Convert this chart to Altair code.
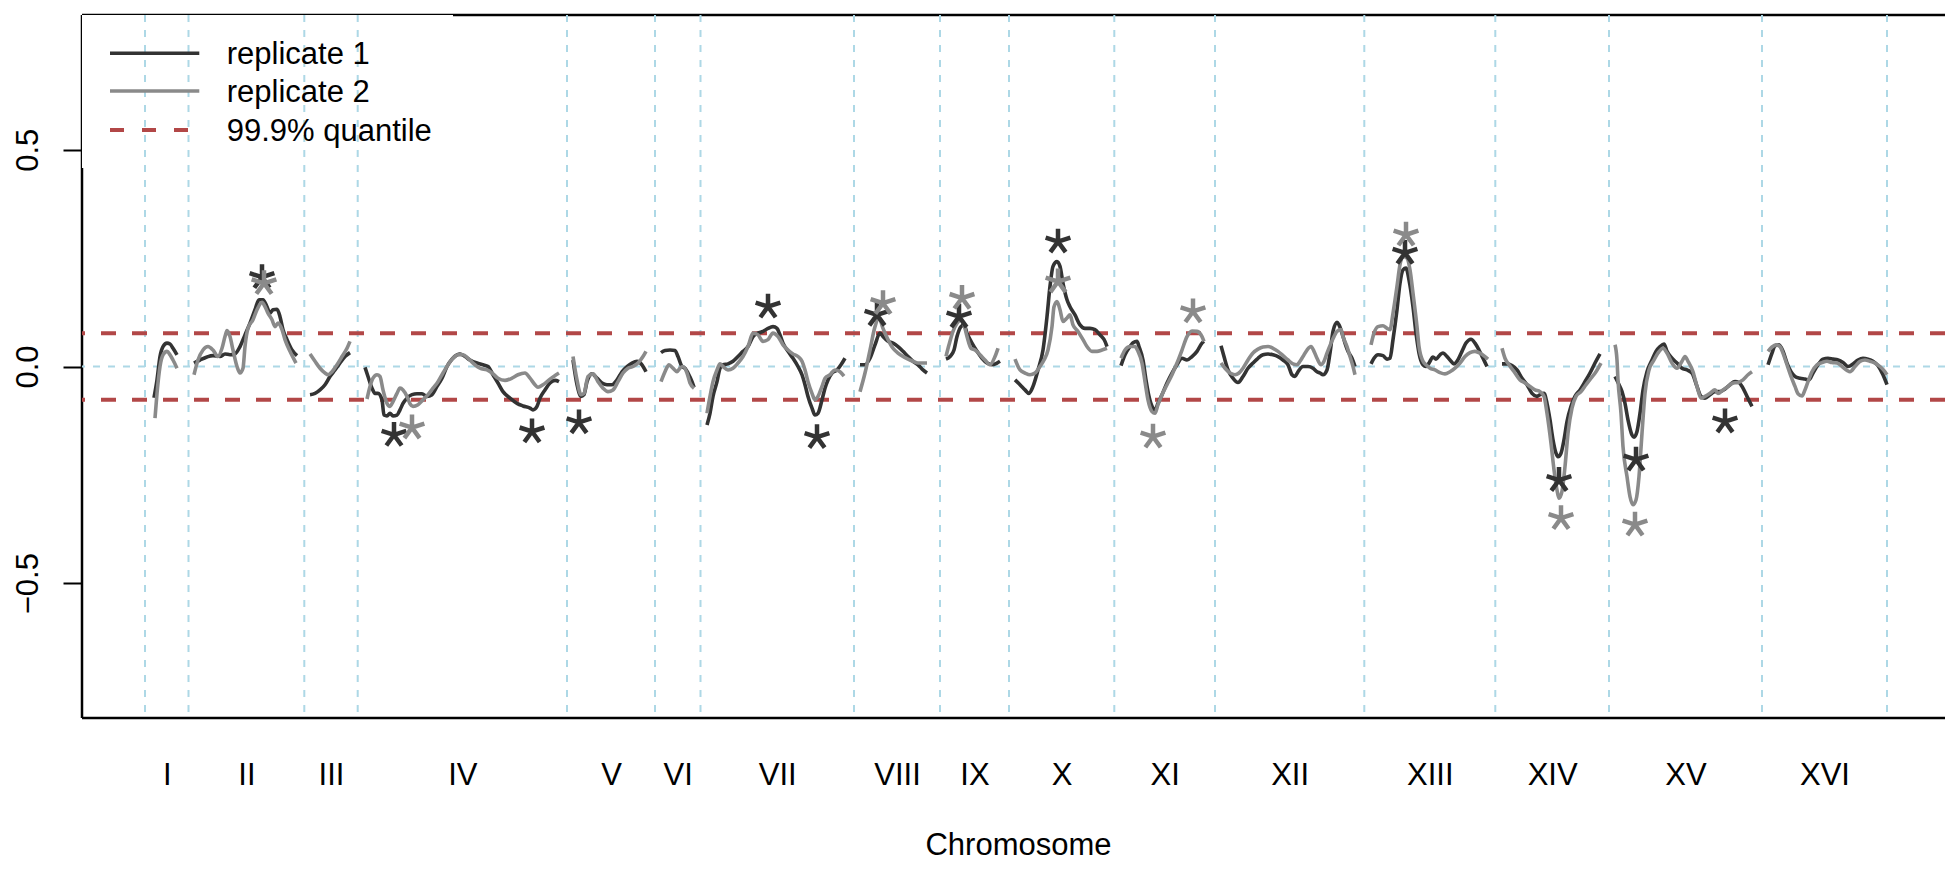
import json
import altair as alt
import pandas as pd

# ---------------- data ----------------
chromosomes = ["I", "II", "III", "IV", "V", "VI", "VII", "VIII",
               "IX", "X", "XI", "XII", "XIII", "XIV", "XV", "XVI"]
# chromosome boundaries along the concatenated genome (position bins)
boundaries = [0, 43.5, 159.3, 212.7, 422, 510, 555.5, 709, 795, 864,
              969.3, 1070, 1219.3, 1350.3, 1464, 1617, 1742]
quantile = 0.077

# Chromosome I
I_pos1 = [9, 12, 15, 18, 22, 25, 28, 32]
I_val1 = [-0.072, -0.031, 0.023, 0.046, 0.054, 0.052, 0.042, 0.027]
I_pos2 = [10, 12, 15, 18, 22, 25, 28, 32]
I_val2 = [-0.119, -0.062, 0.0, 0.027, 0.035, 0.027, 0.015, -0.004]
# Chromosome II
II_pos1 = [49, 55, 62, 68, 75, 80, 85, 90, 95, 100, 105, 110, 114, 118, 122, 125, 128, 132, 135, 138, 142, 147, 152]
II_val1 = [0.008, 0.015, 0.022, 0.025, 0.023, 0.029, 0.027, 0.029, 0.046, 0.073, 0.1, 0.131, 0.154, 0.154, 0.138,
           0.123, 0.131, 0.132, 0.115, 0.085, 0.062, 0.038, 0.025]
II_pos2 = [49, 53, 58, 63, 68, 73, 77, 80, 82, 85, 88, 92, 95, 98, 100, 103, 108, 112, 117, 120, 123, 127, 130,
           133, 137, 140, 145, 151]
II_val2 = [-0.019, 0.015, 0.038, 0.046, 0.038, 0.023, 0.042, 0.069, 0.083, 0.069, 0.038, 0.0, -0.015, -0.004,
           0.046, 0.088, 0.108, 0.131, 0.148, 0.138, 0.123, 0.108, 0.092, 0.1, 0.085, 0.062, 0.035, 0.008]
# Chromosome III
III_pos1 = [165, 170, 175, 180, 185, 190, 195, 200, 205]
III_val1 = [-0.065, -0.062, -0.054, -0.042, -0.023, -0.008, 0.008, 0.023, 0.032]
III_pos2 = [165, 170, 175, 180, 183, 187, 192, 197, 202, 205]
III_val2 = [0.029, 0.012, -0.004, -0.015, -0.019, -0.012, 0.004, 0.023, 0.042, 0.058]
# Chromosome IV
IV_pos1 = [220, 223, 227, 230, 233, 237, 239, 242, 245, 248, 252, 255, 258, 262, 267, 272, 277, 282, 287, 292,
           297, 302, 307, 312, 315, 320, 325, 332, 338, 343, 348, 353, 358, 365, 372, 378, 385, 388, 392, 395,
           400, 405, 410, 414]
IV_val1 = [-0.002, -0.023, -0.05, -0.062, -0.062, -0.077, -0.112, -0.114, -0.108, -0.114, -0.112, -0.1, -0.085,
           -0.073, -0.065, -0.063, -0.063, -0.069, -0.065, -0.046, -0.027, 0.0, 0.017, 0.027, 0.029, 0.023, 0.015,
           0.008, 0.004, 0.0, -0.019, -0.038, -0.058, -0.073, -0.085, -0.091, -0.096, -0.1, -0.092, -0.073,
           -0.054, -0.038, -0.032, -0.035]
IV_pos2 = [222, 225, 228, 232, 235, 238, 242, 245, 248, 252, 255, 258, 262, 265, 268, 273, 278, 283, 288, 293,
           298, 303, 308, 313, 318, 323, 328, 335, 342, 347, 353, 360, 367, 373, 380, 385, 390, 393, 398, 405, 414]
IV_val2 = [-0.075, -0.046, -0.027, -0.019, -0.023, -0.054, -0.085, -0.092, -0.081, -0.062, -0.05, -0.054, -0.069,
           -0.086, -0.092, -0.088, -0.077, -0.065, -0.05, -0.035, -0.015, 0.004, 0.019, 0.027, 0.027, 0.019, 0.008,
           -0.004, -0.008, -0.015, -0.027, -0.032, -0.027, -0.019, -0.015, -0.027, -0.042, -0.048, -0.042,
           -0.029, -0.015]
# Chromosome V
V_pos1 = [428, 432, 436, 439, 442, 447, 452, 457, 462, 467, 472, 477, 482, 487, 492, 497, 501]
V_val1 = [0.015, -0.042, -0.069, -0.065, -0.035, -0.017, -0.027, -0.038, -0.042, -0.042, -0.031, -0.012, 0.0,
          0.008, 0.012, 0.004, -0.012]
V_pos2 = [428, 432, 436, 439, 443, 448, 453, 458, 463, 468, 473, 478, 483, 488, 493, 498, 501]
V_val2 = [0.023, -0.031, -0.065, -0.062, -0.023, -0.017, -0.035, -0.05, -0.058, -0.054, -0.035, -0.015, -0.004,
          0.0, 0.008, 0.023, 0.035]
# Chromosome VI
VI_pos1 = [516, 520, 525, 530, 533, 537, 540, 543, 547, 549]
VI_val1 = [0.032, 0.037, 0.038, 0.037, 0.023, 0.0, -0.004, -0.015, -0.035, -0.048]
VI_pos2 = [516, 520, 524, 528, 532, 535, 538, 542, 545, 549]
VI_val2 = [-0.035, -0.012, 0.004, -0.004, -0.012, -0.004, 0.0, -0.015, -0.038, -0.05]
# Chromosome VII
VII_pos1 = [562, 565, 568, 572, 575, 578, 583, 588, 593, 598, 603, 608, 613, 618, 623, 628, 632, 635, 638, 643,
            648, 653, 657, 660, 663, 667, 670, 673, 677, 680, 683, 687, 692, 696, 700]
VII_val1 = [-0.135, -0.108, -0.069, -0.035, -0.004, 0.004, 0.006, 0.012, 0.023, 0.035, 0.046, 0.069, 0.077,
            0.081, 0.088, 0.092, 0.088, 0.073, 0.054, 0.035, 0.019, 0.0, -0.019, -0.042, -0.069, -0.096, -0.112,
            -0.108, -0.077, -0.05, -0.031, -0.015, -0.008, 0.004, 0.019]
VII_pos2 = [562, 565, 568, 572, 575, 578, 583, 588, 593, 598, 603, 608, 613, 618, 623, 628, 633, 638, 643, 648,
            653, 657, 660, 663, 667, 670, 673, 677, 680, 685, 690, 695, 699]
VII_val2 = [-0.108, -0.069, -0.035, -0.008, 0.006, 0.0, -0.008, -0.004, 0.008, 0.023, 0.046, 0.077, 0.073,
            0.058, 0.062, 0.077, 0.069, 0.05, 0.038, 0.029, 0.023, 0.012, -0.008, -0.035, -0.062, -0.077, -0.069,
            -0.046, -0.027, -0.019, -0.008, -0.012, -0.022]
# Chromosome VIII
VIII_pos1 = [715, 720, 725, 730, 735, 738, 743, 748, 753, 758, 763, 768, 773, 778, 782]
VIII_val1 = [0.004, 0.004, 0.019, 0.05, 0.077, 0.069, 0.058, 0.054, 0.046, 0.035, 0.023, 0.012, 0.004, -0.008,
             -0.015]
VIII_pos2 = [715, 720, 725, 730, 734, 738, 743, 748, 753, 758, 763, 768, 773, 782]
VIII_val2 = [-0.058, -0.015, 0.038, 0.092, 0.112, 0.088, 0.062, 0.042, 0.031, 0.023, 0.017, 0.012, 0.008, 0.008]
# Chromosome IX
IX_pos1 = [801, 805, 809, 812, 816, 819, 822, 827, 832, 837, 842, 847, 852, 855]
IX_val1 = [0.017, 0.023, 0.038, 0.069, 0.092, 0.096, 0.077, 0.054, 0.035, 0.019, 0.008, 0.004, 0.008, 0.012]
IX_pos2 = [801, 804, 808, 812, 816, 819, 822, 826, 830, 835, 840, 845, 850, 853]
IX_val2 = [0.023, 0.05, 0.081, 0.1, 0.108, 0.096, 0.069, 0.042, 0.038, 0.027, 0.015, 0.004, 0.023, 0.042]
# Chromosome X
X_pos1 = [870, 875, 880, 884, 888, 893, 898, 902, 905, 908, 912, 915, 918, 922, 925, 930, 935, 940, 945, 950,
          955, 960, 962]
X_val1 = [-0.031, -0.042, -0.054, -0.062, -0.046, -0.008, 0.038, 0.115, 0.185, 0.231, 0.242, 0.231, 0.192,
          0.154, 0.138, 0.119, 0.096, 0.088, 0.088, 0.085, 0.073, 0.058, 0.046]
X_pos2 = [870, 875, 880, 885, 890, 895, 899, 903, 907, 909, 912, 915, 918, 922, 925, 928, 933, 938, 942, 947,
          952, 957, 962]
X_val2 = [0.017, -0.008, -0.015, -0.019, -0.015, 0.0, 0.015, 0.038, 0.092, 0.138, 0.15, 0.131, 0.104, 0.112,
          0.119, 0.096, 0.081, 0.062, 0.046, 0.035, 0.035, 0.038, 0.042]
# Chromosome XI
XI_pos1 = [976, 980, 985, 988, 992, 994, 998, 1001, 1004, 1008, 1010, 1013, 1017, 1022, 1027, 1032, 1037, 1042,
           1047, 1052, 1057, 1059]
XI_val1 = [0.002, 0.027, 0.046, 0.055, 0.058, 0.046, 0.015, -0.031, -0.069, -0.096, -0.1, -0.085, -0.065, -0.038,
           -0.015, 0.004, 0.019, 0.015, 0.023, 0.035, 0.054, 0.058]
XI_pos2 = [976, 980, 985, 990, 993, 997, 1000, 1003, 1007, 1010, 1013, 1017, 1022, 1027, 1032, 1037, 1042, 1047,
           1052, 1057, 1059]
XI_val2 = [0.019, 0.038, 0.046, 0.046, 0.035, 0.008, -0.035, -0.077, -0.104, -0.108, -0.088, -0.065, -0.042,
           -0.019, 0.008, 0.038, 0.069, 0.082, 0.081, 0.069, 0.058]
# Chromosome XII
XII_pos1 = [1076, 1079, 1083, 1088, 1093, 1098, 1103, 1108, 1113, 1118, 1123, 1128, 1133, 1138, 1143, 1147,
            1150, 1153, 1158, 1163, 1168, 1172, 1175, 1178, 1182, 1185, 1188, 1192, 1194, 1197, 1200, 1203,
            1207, 1210]
XII_val1 = [0.048, 0.023, -0.008, -0.027, -0.037, -0.023, -0.004, 0.008, 0.019, 0.027, 0.029, 0.027, 0.023,
            0.015, 0.004, -0.019, -0.023, -0.012, 0.0, 0.0, -0.004, -0.012, -0.015, -0.019, -0.008, 0.031, 0.081,
            0.102, 0.096, 0.077, 0.054, 0.035, 0.019, 0.0]
XII_pos2 = [1076, 1080, 1085, 1090, 1094, 1098, 1103, 1108, 1113, 1118, 1123, 1128, 1133, 1138, 1143, 1148,
            1152, 1155, 1158, 1162, 1166, 1169, 1172, 1176, 1179, 1182, 1186, 1189, 1192, 1196, 1198, 1202,
            1205, 1208, 1210]
XII_val2 = [0.008, -0.004, -0.015, -0.019, -0.015, -0.004, 0.015, 0.031, 0.04, 0.045, 0.046, 0.042, 0.035,
            0.025, 0.015, 0.006, 0.004, 0.012, 0.023, 0.038, 0.046, 0.035, 0.019, 0.004, 0.012, 0.031, 0.054,
            0.069, 0.081, 0.085, 0.069, 0.046, 0.023, 0.0, -0.019]
# Chromosome XIII
XIII_pos1 = [1226, 1229, 1233, 1238, 1242, 1245, 1248, 1252, 1255, 1258, 1261, 1264, 1268, 1271, 1274, 1278,
             1281, 1284, 1288, 1291, 1295, 1298, 1302, 1305, 1309, 1312, 1317, 1321, 1326, 1330, 1334, 1338, 1342]
XIII_val1 = [0.006, 0.019, 0.027, 0.025, 0.017, 0.019, 0.062, 0.131, 0.192, 0.223, 0.227, 0.2, 0.138, 0.077,
             0.031, 0.004, 0.0, 0.008, 0.022, 0.017, 0.027, 0.031, 0.023, 0.015, 0.006, 0.012, 0.035, 0.054,
             0.063, 0.054, 0.038, 0.019, 0.0]
XIII_pos2 = [1226, 1229, 1233, 1238, 1242, 1245, 1248, 1252, 1255, 1258, 1262, 1265, 1268, 1272, 1274, 1278,
             1281, 1285, 1290, 1295, 1300, 1305, 1310, 1315, 1320, 1325, 1330, 1335, 1340, 1343]
XIII_val2 = [0.05, 0.077, 0.092, 0.094, 0.088, 0.085, 0.123, 0.185, 0.235, 0.254, 0.25, 0.223, 0.169, 0.092,
             0.046, 0.012, 0.004, -0.004, -0.008, -0.014, -0.017, -0.012, -0.004, 0.008, 0.023, 0.032, 0.035,
             0.031, 0.023, 0.017]
# Chromosome XIV
XIV_pos1 = [1357, 1362, 1367, 1372, 1377, 1382, 1387, 1392, 1395, 1399, 1402, 1405, 1408, 1411, 1413, 1416,
            1419, 1422, 1426, 1430, 1435, 1440, 1445, 1450, 1455]
XIV_val1 = [0.006, 0.006, 0.002, -0.008, -0.027, -0.042, -0.062, -0.069, -0.065, -0.062, -0.085, -0.123, -0.169,
            -0.2, -0.208, -0.2, -0.169, -0.127, -0.092, -0.069, -0.054, -0.035, -0.015, 0.008, 0.029]
XIV_pos2 = [1357, 1360, 1364, 1370, 1375, 1380, 1385, 1390, 1395, 1399, 1402, 1406, 1409, 1412, 1414, 1417,
            1420, 1423, 1427, 1431, 1436, 1441, 1446, 1451, 1456]
XIV_val2 = [0.042, 0.019, 0.004, -0.015, -0.031, -0.038, -0.046, -0.054, -0.058, -0.069, -0.108, -0.177, -0.238,
            -0.285, -0.304, -0.288, -0.231, -0.154, -0.096, -0.069, -0.058, -0.042, -0.027, -0.012, 0.008]
# Chromosome XV
XV_pos1 = [1470, 1473, 1477, 1480, 1483, 1487, 1489, 1492, 1495, 1498, 1502, 1507, 1511, 1515, 1519, 1522,
           1527, 1532, 1537, 1542, 1547, 1552, 1556, 1560, 1565, 1570, 1575, 1580, 1585, 1590, 1594, 1598,
           1602, 1607]
XV_val1 = [-0.023, -0.037, -0.058, -0.085, -0.123, -0.158, -0.163, -0.15, -0.108, -0.054, -0.012, 0.015, 0.035,
           0.046, 0.052, 0.035, 0.019, 0.008, -0.004, -0.008, -0.015, -0.046, -0.069, -0.073, -0.065, -0.058,
           -0.058, -0.052, -0.042, -0.035, -0.037, -0.05, -0.069, -0.092]
XV_pos2 = [1470, 1472, 1473, 1476, 1478, 1482, 1485, 1488, 1491, 1494, 1497, 1500, 1504, 1509, 1513, 1518,
           1522, 1527, 1532, 1537, 1540, 1543, 1548, 1552, 1556, 1560, 1565, 1570, 1573, 1578, 1583, 1588,
           1593, 1598, 1603, 1607]
XV_val2 = [0.05, 0.015, -0.031, -0.108, -0.185, -0.254, -0.3, -0.319, -0.308, -0.254, -0.154, -0.062, -0.008,
           0.015, 0.031, 0.042, 0.031, 0.008, -0.004, 0.012, 0.023, 0.012, -0.012, -0.046, -0.073, -0.069,
           -0.062, -0.054, -0.062, -0.054, -0.046, -0.038, -0.037, -0.031, -0.019, -0.012]
# Chromosome XVI
XVI_pos1 = [1623, 1627, 1630, 1634, 1638, 1642, 1646, 1650, 1655, 1660, 1664, 1668, 1673, 1678, 1683, 1688,
            1693, 1698, 1703, 1708, 1713, 1718, 1723, 1728, 1733, 1738, 1742]
XVI_val1 = [0.004, 0.031, 0.048, 0.05, 0.035, 0.008, -0.012, -0.023, -0.027, -0.029, -0.031, -0.015, 0.004,
            0.017, 0.019, 0.017, 0.015, 0.009, 0.0, 0.006, 0.015, 0.019, 0.017, 0.012, 0.002, -0.019, -0.042]
XVI_pos2 = [1623, 1627, 1631, 1635, 1638, 1642, 1646, 1650, 1653, 1657, 1660, 1663, 1667, 1672, 1677, 1682,
            1687, 1692, 1697, 1702, 1705, 1710, 1715, 1720, 1725, 1730, 1735, 1740, 1742]
XVI_val2 = [0.035, 0.045, 0.05, 0.046, 0.031, 0.004, -0.023, -0.046, -0.063, -0.068, -0.054, -0.035, -0.012,
            0.004, 0.009, 0.012, 0.009, 0.008, 0.0, -0.009, -0.012, 0.0, 0.012, 0.015, 0.012, 0.008, 0.0,
            -0.012, -0.019]

# significant peaks (asterisks)
star1_pos = [117, 249, 387, 434, 623, 672, 732, 814, 913, 1260, 1414, 1491, 1580]
star1_val = [0.206, -0.158, -0.15, -0.129, 0.138, -0.163, 0.119, 0.115, 0.288, 0.262, -0.262, -0.215, -0.127]
star2_pos = [119, 267, 738, 817, 913, 1008, 1048, 1261, 1416, 1490]
star2_val = [0.192, -0.141, 0.146, 0.158, 0.196, -0.162, 0.127, 0.304, -0.35, -0.365]

series = ["replicate 1", "replicate 2"]
legend_labels = ["replicate 1", "replicate 2", "99.9% quantile"]

curves = [
    ("I", I_pos1, I_val1, I_pos2, I_val2), ("II", II_pos1, II_val1, II_pos2, II_val2),
    ("III", III_pos1, III_val1, III_pos2, III_val2), ("IV", IV_pos1, IV_val1, IV_pos2, IV_val2),
    ("V", V_pos1, V_val1, V_pos2, V_val2), ("VI", VI_pos1, VI_val1, VI_pos2, VI_val2),
    ("VII", VII_pos1, VII_val1, VII_pos2, VII_val2), ("VIII", VIII_pos1, VIII_val1, VIII_pos2, VIII_val2),
    ("IX", IX_pos1, IX_val1, IX_pos2, IX_val2), ("X", X_pos1, X_val1, X_pos2, X_val2),
    ("XI", XI_pos1, XI_val1, XI_pos2, XI_val2), ("XII", XII_pos1, XII_val1, XII_pos2, XII_val2),
    ("XIII", XIII_pos1, XIII_val1, XIII_pos2, XIII_val2), ("XIV", XIV_pos1, XIV_val1, XIV_pos2, XIV_val2),
    ("XV", XV_pos1, XV_val1, XV_pos2, XV_val2), ("XVI", XVI_pos1, XVI_val1, XVI_pos2, XVI_val2),
]

# ---------------- tables ----------------
rows1, rows2 = [], []
for name, p1, v1, p2, v2 in curves:
    rows1 += [{"chrom": name, "pos": p, "val": v, "rep": series[0]} for p, v in zip(p1, v1)]
    rows2 += [{"chrom": name, "pos": p, "val": v, "rep": series[1]} for p, v in zip(p2, v2)]
df1 = pd.DataFrame(rows1)
df2 = pd.DataFrame(rows2)
stars = pd.DataFrame(
    [{"pos": p, "val": v, "rep": series[0]} for p, v in zip(star1_pos, star1_val)]
    + [{"pos": p, "val": v, "rep": series[1]} for p, v in zip(star2_pos, star2_val)]
)
bounds_df = pd.DataFrame({"pos": boundaries})
quant_df = pd.DataFrame({"val": [quantile, -quantile]})
zero_df = pd.DataFrame({"val": [0.0]})
one = pd.DataFrame({"k": [0]})

mids = [round((boundaries[i] + boundaries[i + 1]) / 2, 2) for i in range(len(chromosomes))]
label_expr = json.dumps(chromosomes) + "[indexof(" + json.dumps(mids) + ", datum.value)]"

# ---------------- styling ----------------
W, H = 1863, 703
FONT = "Liberation Sans"
C1, C2, CQ, CB = "#333333", "#8a8a8a", "#b24747", "#ADD8E6"
xs = alt.Scale(domain=[-63, 1800], nice=False, zero=False)
ys = alt.Scale(domain=[-0.811, 0.811], nice=False, zero=False)
cscale = alt.Scale(domain=series, range=[C1, C2])
STAR = ("M0,0L0,-1M0,0L0.951,-0.309M0,0L0.588,0.809M0,0L-0.588,0.809M0,0L-0.951,-0.309")

x_axis = alt.Axis(values=mids, labelExpr=label_expr, domain=False, grid=False, ticks=False, tickSize=0,
                  labelFontSize=31, labelPadding=42, labelBaseline="top", labelAlign="center",
                  labelOverlap=False, labelFlush=False, title="Chromosome", titleFontSize=31,
                  titleFontWeight="normal", titleX=936, titleY=136, titleBaseline="alphabetic",
                  titleAlign="center")
y_axis = alt.Axis(values=[-0.5, 0, 0.5], format=".1f", domain=False, grid=False, ticks=True, tickSize=19,
                  tickWidth=2, tickColor="black", labelAngle=270, labelAlign="center",
                  labelBaseline="alphabetic", labelPadding=26, labelFontSize=31, title="")


def X(field="pos:Q"):
    return alt.X(field, scale=xs, axis=x_axis, title="Chromosome")


def Y(field="val:Q"):
    return alt.Y(field, scale=ys, axis=y_axis, title="")


# frame
frame_top = alt.Chart(one).mark_rule(color="black", strokeWidth=2.5).encode(
    x=alt.value(0), x2=alt.value(W), y=alt.value(0))
frame_bottom = alt.Chart(one).mark_rule(color="black", strokeWidth=2.5).encode(
    x=alt.value(0), x2=alt.value(W), y=alt.value(H))
frame_left = alt.Chart(one).mark_rule(color="black", strokeWidth=2.5).encode(
    x=alt.value(0), y=alt.value(0), y2=alt.value(H))

# legend background
legend_bg = alt.Chart(one).mark_rect(fill="white", strokeWidth=0).encode(
    x=alt.value(0), x2=alt.value(371), y=alt.value(0), y2=alt.value(153))

# reference lines
vlines = alt.Chart(bounds_df).mark_rule(color=CB, strokeWidth=2, strokeDash=[7, 8]).encode(x=X())
zline = alt.Chart(zero_df).mark_rule(color=CB, strokeWidth=2, strokeDash=[7, 8]).encode(y=Y())
qlines = alt.Chart(quant_df).mark_rule(color=CQ, strokeWidth=4, strokeDash=[15, 16]).encode(y=Y())

# legend entries
leg_rows = [38.3, 76, 115]
leg_line1 = alt.Chart(one).mark_rule(color=C1, strokeWidth=3.5).encode(
    x=alt.value(28), x2=alt.value(117.3), y=alt.value(leg_rows[0]))
leg_line2 = alt.Chart(one).mark_rule(color=C2, strokeWidth=3.5).encode(
    x=alt.value(28), x2=alt.value(117.3), y=alt.value(leg_rows[1]))
leg_line3 = alt.Chart(one).mark_rule(color=CQ, strokeWidth=4, strokeDash=[14, 18]).encode(
    x=alt.value(28), x2=alt.value(117.3), y=alt.value(leg_rows[2]))
leg_texts = [
    alt.Chart(one).mark_text(text=t, align="left", baseline="alphabetic", fontSize=31, font=FONT,
                             color="black").encode(x=alt.value(144.7), y=alt.value(r + 11))
    for t, r in zip(legend_labels, leg_rows)
]

# curves
line1 = alt.Chart(df1).mark_line(strokeWidth=3.6, interpolate="monotone").encode(
    x=X(), y=Y(), color=alt.Color("rep:N", scale=cscale, legend=None), detail="chrom:N")
line2 = alt.Chart(df2).mark_line(strokeWidth=3.6, interpolate="monotone").encode(
    x=X(), y=Y(), color=alt.Color("rep:N", scale=cscale, legend=None), detail="chrom:N")
star_layer = alt.Chart(stars).mark_point(shape=STAR, filled=False, size=676, strokeWidth=4.5,
                                         opacity=1).encode(
    x=X(), y=Y(), color=alt.Color("rep:N", scale=cscale, legend=None))

chart = alt.layer(
    frame_top, frame_bottom, frame_left, legend_bg, vlines, zline,
    leg_line1, leg_line2, leg_line3, *leg_texts,
    qlines, line1, line2, star_layer,
).properties(
    width=W, height=H,
    autosize=alt.AutoSizeParams(type="none"),
    padding={"left": 74, "top": 7, "right": 0, "bottom": 143},
).configure_view(stroke=None).configure_axis(
    labelFont=FONT, titleFont=FONT, labelColor="black", titleColor="black"
)

chart.save("out.html", embed_options={"renderer": "svg", "actions": False})
